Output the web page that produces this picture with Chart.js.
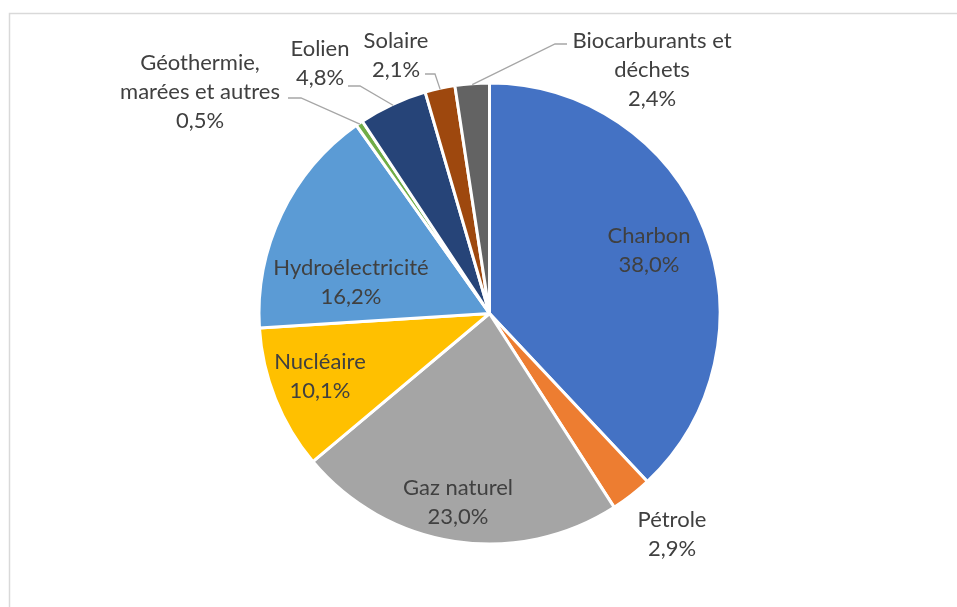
<!DOCTYPE html>
<html lang="fr">
<head>
<meta charset="utf-8"/>
<title>Production d'électricité par source</title>
<script src="https://cdn.jsdelivr.net/npm/chart.js@4.4.0/dist/chart.umd.min.js"></script>
<style>
    html, body { margin: 0; padding: 0; background: #ffffff; }
    #wrap { position: relative; width: 957px; height: 607px; }
</style>
</head>
<body>
<div id="wrap">
    <canvas id="pie" width="957" height="607"></canvas>
</div>
<script>
    // data (share of each source, %)
    var sources = ['Charbon', 'Pétrole', 'Gaz naturel', 'Nucléaire', 'Hydroélectricité',
                   'Géothermie, marées et autres', 'Eolien', 'Solaire', 'Biocarburants et déchets'];
    var shares = [38.0, 2.9, 23.0, 10.1, 16.2, 0.5, 4.8, 2.1, 2.4];
    var colours = ['#4472C4', '#ED7D31', '#A5A5A5', '#FFC000', '#5B9BD5',
                   '#70AD47', '#264478', '#9E480E', '#636363'];

    // how each label is broken into lines, where it sits, and whether it gets a leader line
    var labelLines = [
        ['Charbon'], ['Pétrole'], ['Gaz naturel'], ['Nucléaire'], ['Hydroélectricité'],
        ['Géothermie,', 'marées et autres'], ['Eolien'], ['Solaire'], ['Biocarburants et', 'déchets']
    ];
    var labelPos = [
        {x: 649, y: 236}, {x: 672, y: 520}, {x: 458, y: 488}, {x: 320, y: 362}, {x: 351, y: 268},
        {x: 200, y: 63, elbow: {x1: 288, x2: 301, y: 98}},
        {x: 320, y: 49, elbow: {x1: 348, x2: 360, y: 86}},
        {x: 396, y: 41, elbow: {x1: 425, x2: 435, y: 74}},
        {x: 652, y: 41, elbow: {x1: 567, x2: 555, y: 44}}
    ];

    function pct(v) {
        return v.toFixed(1).replace('.', ',') + '%';
    }

    var frame = {
        id: 'frame',
        beforeDraw: function (chart) {
            var c = chart.ctx;
            c.save();
            c.strokeStyle = '#d9d9d9';
            c.lineWidth = 1.5;
            c.beginPath();
            c.moveTo(9.5, 607);
            c.lineTo(9.5, 13.5);
            c.lineTo(957, 13.5);
            c.stroke();
            c.restore();
        }
    };

    var sliceLabels = {
        id: 'sliceLabels',
        afterDraw: function (chart) {
            var c = chart.ctx;
            var arcs = chart.getDatasetMeta(0).data;
            c.save();
            c.font = '22px Lato, "Liberation Sans", sans-serif';
            c.textAlign = 'center';
            c.textBaseline = 'middle';
            arcs.forEach(function (arc, i) {
                var p = labelPos[i];
                if (p.elbow) {
                    var mid = (arc.startAngle + arc.endAngle) / 2;
                    var r = arc.outerRadius - 1;
                    c.strokeStyle = '#A6A6A6';
                    c.lineWidth = 1.3;
                    c.beginPath();
                    c.moveTo(p.elbow.x1, p.elbow.y);
                    c.lineTo(p.elbow.x2, p.elbow.y);
                    c.lineTo(arc.x + r * Math.cos(mid), arc.y + r * Math.sin(mid));
                    c.stroke();
                }
                var lines = labelLines[i].concat([pct(shares[i])]);
                c.fillStyle = '#404040';
                lines.forEach(function (t, k) {
                    c.fillText(t, p.x, p.y + k * 29);
                });
            });
            c.restore();
        }
    };

    new Chart(document.getElementById('pie'), {
        type: 'pie',
        data: {
            labels: sources,
            datasets: [{
                data: shares,
                backgroundColor: colours,
                borderColor: '#ffffff',
                borderWidth: 3
            }]
        },
        options: {
            responsive: false,
            animation: false,
            layout: {
                padding: {left: 257.5, right: 235.5, top: 81.5, bottom: 61.5}
            },
            plugins: {
                legend: {display: false},
                tooltip: {enabled: false}
            }
        },
        plugins: [frame, sliceLabels]
    });
</script>
</body>
</html>
